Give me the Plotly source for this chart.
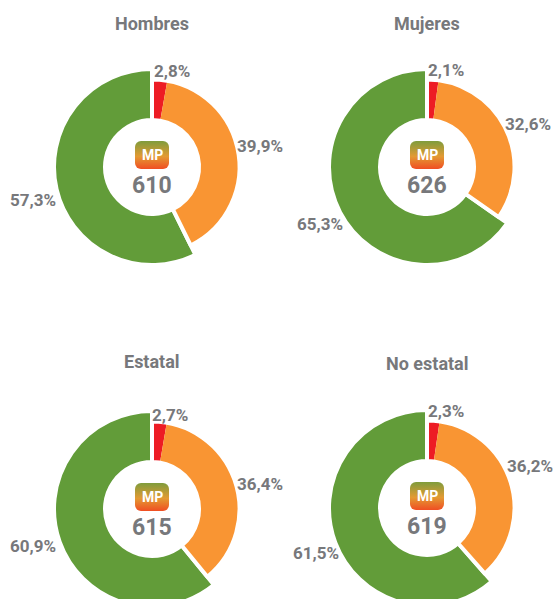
import base64
import plotly.graph_objects as go

# Data
panels = ["Hombres", "Mujeres", "Estatal", "No estatal"]
categories = ["Bajo", "Medio", "Alto"]
low_share = [2.8, 2.1, 2.7, 2.3]
mid_share = [39.9, 32.6, 36.4, 36.2]
high_share = [57.3, 65.3, 60.9, 61.5]
scores = [610, 626, 615, 619]

# Layout in page pixels
W, H, VIEW_H = 553, 640, 599
centers = [(152, 167), (427, 167), (152, 509), (427, 508)]
title_pos = [(152, 24), (427, 24), (152, 361), (427, 363)]
low_pos = [(172, 71), (446, 70), (170, 415), (446, 411)]
mid_pos = [(260, 146), (528, 124), (260, 484), (530, 466)]
high_pos = [(33, 200), (320, 224), (33, 546), (316, 553)]
GAP = 4
R_HIGH, R_REST, R_HOLE = 96, 85.5, 49
colors = ["#ed1c24", "#f99533", "#629c39"]
CLEAR = "rgba(0,0,0,0)"
GREY = "#77787b"
FONT = "Roboto, Liberation Sans, Arial, sans-serif"

svg = ('<svg xmlns="http://www.w3.org/2000/svg" width="68" height="56">'
       '<defs><linearGradient id="g" x1="0" y1="0" x2="0" y2="1">'
       '<stop offset="0" stop-color="#7f9c3c"/><stop offset="0.55" stop-color="#e39a33"/>'
       '<stop offset="1" stop-color="#f04e23"/></linearGradient></defs>'
       '<rect width="68" height="56" rx="12" ry="12" fill="url(#g)"/></svg>')
badge = "data:image/svg+xml;base64," + base64.b64encode(svg.encode()).decode()


def px_domain(cx, cy, r):
    return dict(x=[(cx - r) / W, (cx + r) / W], y=[1 - (cy + r) / H, 1 - (cy - r) / H])


def comma(v):
    return f"{v:.1f}".replace(".", ",") + "%"


fig = go.Figure()
annotations, images = [], []


def note(text, pos, size, color=GREY):
    annotations.append(dict(
        text=f"<b>{text}</b>", x=pos[0] / W, y=1 - pos[1] / H, xref="paper", yref="paper",
        xanchor="center", yanchor="middle", showarrow=False,
        font=dict(family=FONT, size=size, color=color)))


def ring(vals, labels, fills, radius, width, panel):
    r = radius + GAP / 2
    fig.add_trace(go.Pie(
        labels=labels, values=vals, name=panel, sort=False, direction="clockwise",
        rotation=0, hole=(R_HOLE - GAP / 2) / r, domain=px_domain(*centers[panels.index(panel)], r),
        textinfo="none", showlegend=False,
        marker=dict(colors=fills, line=dict(color="white", width=width))))


for i, panel in enumerate(panels):
    vals = [low_share[i], mid_share[i], high_share[i]]
    cx, cy = centers[i]
    # Green ring: taller, with its own white edge
    ring(vals, categories, [CLEAR, CLEAR, colors[2]], R_HIGH, [0, 0, GAP], panel)
    # Red and orange touch each other, so they get no edge of their own ...
    ring(vals, categories, [colors[0], colors[1], CLEAR], R_REST, 0, panel)
    # ... and one white edge goes round the two of them together
    ring([low_share[i] + mid_share[i], high_share[i]], ["Bajo + Medio", "Alto"], [CLEAR, CLEAR],
         R_REST, [GAP, 0], panel)
    note(panel, title_pos[i], 18)
    note(comma(low_share[i]), low_pos[i], 17)
    note(comma(mid_share[i]), mid_pos[i], 17)
    note(comma(high_share[i]), high_pos[i], 17)
    note("MP", (cx, cy - 12), 14, "white")
    note(str(scores[i]), (cx, cy + 18), 23)
    images.append(dict(source=badge, xref="paper", yref="paper", x=cx / W, y=1 - (cy - 12) / H,
                       sizex=34 / W, sizey=28 / H, xanchor="center", yanchor="middle",
                       sizing="stretch", layer="above"))

fig.update_layout(width=W, height=H, margin=dict(l=0, r=0, t=0, b=0), paper_bgcolor="white",
                  plot_bgcolor="white", annotations=annotations, images=images, showlegend=False)

# The lower rings run past the bottom edge of the page, as in the original
post = ("document.body.style.margin='0';document.documentElement.style.overflow='hidden';"
        f"document.body.style.overflow='hidden';document.body.style.height='{VIEW_H}px';")
fig.write_html("out.html", post_script=post, config={"displayModeBar": False})
